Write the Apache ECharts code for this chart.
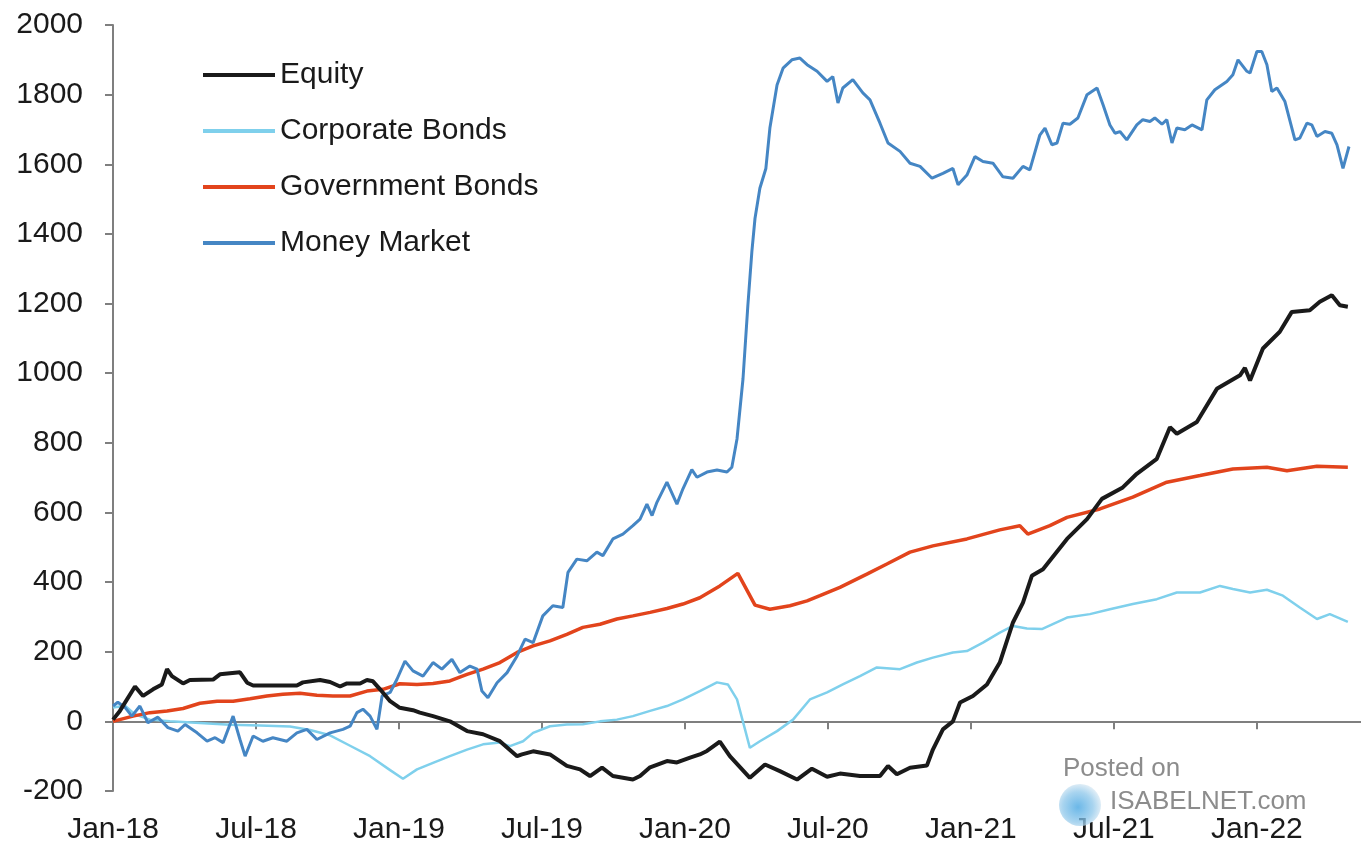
<!DOCTYPE html>
<html>
<head>
<meta charset="utf-8">
<script src="https://cdn.jsdelivr.net/npm/echarts@6/dist/echarts.min.js"></script>
<style>
html,body{margin:0;padding:0;background:#fff;}
#chart{width:1361px;height:845px;}
</style>
</head>
<body>
<div id="chart"></div>
<script>
// x values: years elapsed since 1 Jan 2018 (0.5 = Jul-18, 1 = Jan-19, ...)
const xTickLabels = ['Jan-18','Jul-18','Jan-19','Jul-19','Jan-20','Jul-20','Jan-21','Jul-21','Jan-22'];
const seriesNames = ['Equity','Corporate Bonds','Government Bonds','Money Market'];

const equity = [[0.000,5],[0.024,30],[0.077,100],[0.105,73],[0.140,92],[0.171,106],[0.189,150],[0.206,130],[0.245,109],[0.269,119],[0.350,120],[0.374,135],[0.444,141],[0.469,111],[0.490,103],[0.643,103],[0.664,112],[0.724,119],[0.759,113],[0.794,100],[0.818,109],[0.864,109],[0.888,119],[0.909,115],[0.934,92],[0.969,58],[1.003,39],[1.049,32],[1.073,25],[1.119,15],[1.178,0],[1.238,-28],[1.294,-37],[1.353,-57],[1.413,-100],[1.430,-95],[1.469,-86],[1.528,-95],[1.587,-128],[1.633,-138],[1.668,-157],[1.710,-133],[1.748,-157],[1.818,-167],[1.843,-157],[1.878,-132],[1.937,-114],[1.972,-118],[2.018,-104],[2.052,-95],[2.077,-85],[2.122,-58],[2.157,-100],[2.227,-162],[2.280,-124],[2.332,-143],[2.392,-167],[2.444,-136],[2.497,-159],[2.542,-150],[2.612,-157],[2.682,-157],[2.710,-128],[2.741,-152],[2.787,-133],[2.846,-127],[2.867,-81],[2.902,-23],[2.937,0],[2.962,54],[3.007,73],[3.056,106],[3.101,169],[3.147,284],[3.182,341],[3.213,418],[3.252,437],[3.336,524],[3.406,581],[3.458,639],[3.531,672],[3.580,711],[3.650,754],[3.696,845],[3.720,826],[3.790,860],[3.860,955],[3.941,994],[3.958,1015],[3.976,979],[4.021,1071],[4.080,1119],[4.122,1176],[4.185,1181],[4.220,1205],[4.262,1224],[4.290,1195],[4.318,1191]];

const corporateBonds = [[0.000,40],[0.042,45],[0.077,20],[0.129,5],[0.199,0],[0.304,-5],[0.409,-10],[0.514,-12],[0.619,-15],[0.689,-25],[0.759,-40],[0.829,-70],[0.899,-100],[0.969,-140],[1.014,-165],[1.063,-138],[1.119,-119],[1.178,-100],[1.238,-81],[1.294,-66],[1.353,-61],[1.388,-71],[1.434,-57],[1.469,-33],[1.528,-14],[1.587,-9],[1.643,-8],[1.703,0],[1.762,5],[1.818,15],[1.878,30],[1.937,44],[1.993,63],[2.052,87],[2.112,112],[2.150,106],[2.182,63],[2.210,-23],[2.227,-76],[2.262,-57],[2.322,-28],[2.378,5],[2.437,63],[2.497,83],[2.552,106],[2.612,130],[2.671,155],[2.752,150],[2.811,169],[2.867,183],[2.937,198],[2.986,202],[3.042,226],[3.101,255],[3.147,274],[3.196,267],[3.248,265],[3.336,298],[3.416,308],[3.486,322],[3.566,337],[3.650,351],[3.720,370],[3.801,370],[3.871,389],[3.916,380],[3.976,370],[4.035,378],[4.091,361],[4.150,327],[4.210,294],[4.255,308],[4.318,286]];

const governmentBonds = [[0.000,0],[0.070,15],[0.129,25],[0.189,30],[0.245,37],[0.304,52],[0.364,58],[0.420,58],[0.479,65],[0.538,73],[0.594,78],[0.654,81],[0.713,75],[0.769,73],[0.829,73],[0.888,87],[0.944,92],[1.003,108],[1.063,106],[1.119,109],[1.178,116],[1.238,135],[1.294,150],[1.353,169],[1.413,198],[1.469,217],[1.528,231],[1.587,250],[1.643,270],[1.703,279],[1.762,294],[1.818,303],[1.878,313],[1.937,324],[1.993,337],[2.052,355],[2.122,389],[2.185,425],[2.245,334],[2.297,322],[2.367,332],[2.427,346],[2.472,361],[2.542,385],[2.636,423],[2.706,452],[2.787,486],[2.867,504],[2.986,524],[3.101,550],[3.171,562],[3.199,538],[3.276,562],[3.336,586],[3.451,610],[3.566,644],[3.685,687],[3.801,706],[3.916,725],[4.035,730],[4.105,720],[4.210,733],[4.318,730]];

const moneyMarket = [[0.000,44],[0.017,55],[0.042,40],[0.066,15],[0.094,44],[0.122,-4],[0.157,12],[0.192,-18],[0.227,-28],[0.252,-9],[0.294,-33],[0.329,-57],[0.357,-47],[0.385,-61],[0.420,15],[0.444,-52],[0.462,-100],[0.490,-42],[0.524,-57],[0.559,-47],[0.608,-57],[0.643,-33],[0.678,-23],[0.713,-52],[0.759,-33],[0.804,-23],[0.829,-14],[0.853,25],[0.874,35],[0.899,15],[0.923,-23],[0.941,73],[0.969,83],[0.993,121],[1.021,173],[1.049,145],[1.084,130],[1.119,169],[1.150,150],[1.185,178],[1.213,140],[1.248,159],[1.273,150],[1.290,87],[1.311,68],[1.343,111],[1.378,140],[1.413,188],[1.441,236],[1.469,226],[1.503,303],[1.538,332],[1.573,327],[1.591,428],[1.622,466],[1.657,461],[1.692,486],[1.713,476],[1.748,524],[1.783,538],[1.818,562],[1.843,581],[1.867,624],[1.885,591],[1.902,629],[1.937,687],[1.972,624],[1.993,668],[2.024,723],[2.042,701],[2.077,716],[2.112,722],[2.147,716],[2.164,730],[2.182,811],[2.203,984],[2.220,1195],[2.234,1349],[2.245,1445],[2.262,1531],[2.283,1588],[2.297,1704],[2.322,1828],[2.343,1876],[2.374,1900],[2.402,1905],[2.427,1886],[2.462,1867],[2.497,1838],[2.517,1852],[2.535,1776],[2.552,1819],[2.587,1843],[2.622,1805],[2.647,1785],[2.682,1718],[2.710,1661],[2.752,1637],[2.787,1603],[2.822,1594],[2.864,1560],[2.902,1574],[2.937,1588],[2.955,1541],[2.986,1569],[3.014,1622],[3.042,1608],[3.077,1603],[3.112,1564],[3.147,1560],[3.182,1594],[3.206,1584],[3.241,1684],[3.259,1704],[3.283,1656],[3.301,1661],[3.322,1718],[3.346,1715],[3.374,1733],[3.406,1800],[3.441,1819],[3.462,1771],[3.486,1713],[3.504,1689],[3.521,1694],[3.545,1670],[3.580,1713],[3.601,1728],[3.626,1723],[3.643,1733],[3.668,1715],[3.685,1728],[3.703,1661],[3.720,1704],[3.748,1699],[3.773,1713],[3.808,1699],[3.825,1785],[3.853,1814],[3.895,1838],[3.916,1857],[3.934,1900],[3.965,1867],[3.976,1862],[4.000,1924],[4.017,1924],[4.035,1886],[4.052,1809],[4.070,1819],[4.098,1780],[4.133,1670],[4.150,1675],[4.175,1718],[4.192,1713],[4.210,1680],[4.238,1694],[4.262,1689],[4.280,1656],[4.301,1588],[4.322,1651]];

const FONT = '"Liberation Sans", Arial, sans-serif';
const halfYears = xTickLabels.map((_, i) => i * 0.5);

const chart = echarts.init(document.getElementById('chart'), null, {renderer: 'canvas'});
chart.setOption({
  animation: false,
  backgroundColor: '#ffffff',
  grid: {left: 113, right: 0, top: 25, bottom: 53, containLabel: false},
  legend: {
    data: seriesNames,
    orient: 'vertical',
    left: 198,
    top: 55,
    icon: 'rect',
    itemWidth: 72,
    itemHeight: 4,
    itemGap: 26,
    textStyle: {fontFamily: FONT, fontSize: 30, color: '#1a1a1a', lineHeight: 30}
  },
  xAxis: [
    {
      type: 'value', min: 0, max: 4.364,
      axisLine: {show: true, onZero: true, lineStyle: {color: '#7f7f7f', width: 2}},
      axisTick: {show: true, inside: false, length: 8, customValues: halfYears.slice(1), lineStyle: {color: '#7f7f7f', width: 2}},
      axisLabel: {show: false},
      splitLine: {show: false}
    },
    {
      type: 'value', min: 0, max: 4.364, position: 'bottom',
      axisLine: {show: false, onZero: false},
      axisTick: {show: false},
      splitLine: {show: false},
      axisLabel: {
        show: true, margin: 24, customValues: halfYears,
        fontFamily: FONT, fontSize: 30, color: '#1a1a1a',
        formatter: v => xTickLabels[Math.round(v * 2)] || ''
      }
    }
  ],
  yAxis: {
    type: 'value', min: -200, max: 2000, interval: 200,
    axisLine: {show: true, onZero: false, lineStyle: {color: '#7f7f7f', width: 2}},
    axisTick: {show: true, inside: false, length: 8, lineStyle: {color: '#7f7f7f', width: 2}},
    splitLine: {show: false},
    axisLabel: {margin: 30, fontFamily: FONT, fontSize: 30, color: '#1a1a1a', formatter: v => String(v)}
  },
  graphic: [
    {type: 'circle', shape: {cx: 1080, cy: 805, r: 21}, style: {fill: {type: 'radial', x: 0.45, y: 0.55, r: 0.6, colorStops: [{offset: 0, color: '#3aa0e0'}, {offset: 0.6, color: '#8cc6ea'}, {offset: 1, color: '#e4eef5'}]}, opacity: 0.75}, z: 10},
    {type: 'text', left: 1063, top: 756, style: {text: 'Posted on', font: '26px ' + FONT, fill: '#8c8c8c'}, z: 11},
    {type: 'text', left: 1110, top: 789, style: {text: 'ISABELNET.com', font: '26px ' + FONT, fill: '#8c8c8c'}, z: 11}
  ],
  series: [
    {name: 'Corporate Bonds', type: 'line', data: corporateBonds, showSymbol: false, symbol: 'none', lineStyle: {color: '#7fd0ec', width: 2.5}, itemStyle: {color: '#7fd0ec'}},
    {name: 'Government Bonds', type: 'line', data: governmentBonds, showSymbol: false, symbol: 'none', lineStyle: {color: '#e2441c', width: 3.5}, itemStyle: {color: '#e2441c'}},
    {name: 'Money Market', type: 'line', data: moneyMarket, showSymbol: false, symbol: 'none', lineStyle: {color: '#4586c4', width: 3}, itemStyle: {color: '#4586c4'}},
    {name: 'Equity', type: 'line', data: equity, showSymbol: false, symbol: 'none', lineStyle: {color: '#1a1a1a', width: 4}, itemStyle: {color: '#1a1a1a'}}
  ]
});
</script>
</body>
</html>
